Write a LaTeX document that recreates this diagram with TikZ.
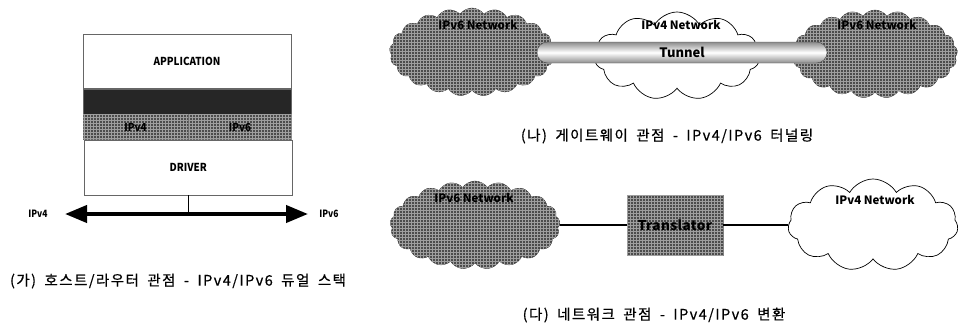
\documentclass[tikz,border=0pt]{standalone}
\usepackage{fontspec}
\setmainfont{Noto Sans CJK KR}
\newfontfamily\capfont{Noto Sans CJK KR}[LetterSpace=10,WordSpace=1.8,FakeBold=0.5]
\newfontfamily\narrowfont{Noto Sans CJK KR}[FakeStretch=0.9]
\newfontfamily\sidefont{Noto Sans CJK KR}[FakeStretch=0.85]
\newfontfamily\spacedfont{Noto Sans CJK KR}[LetterSpace=3]
\usetikzlibrary{arrows.meta}
\usetikzlibrary{positioning}
\usetikzlibrary{shapes.symbols}
\usetikzlibrary{patterns}

\begin{document}
\begin{tikzpicture}[x=1pt,y=-1pt,
  lbl/.style={font=\bfseries\fontsize{11.5}{12}\selectfont},
  sidelbl/.style={font=\sidefont\bfseries\fontsize{10}{12}\selectfont},
  caption/.style={font=\capfont\fontsize{14.5}{16}\selectfont},
  layer/.style={draw=black!60,line width=0.6pt,minimum width=208pt,minimum height=25pt,inner sep=0pt,anchor=north,font=\narrowfont\bfseries\fontsize{11}{12}\selectfont},
  grain/.style={fill=black!70,postaction={pattern=grid,pattern color=black!38}},
  darkcloud/.style={cloud,cloud puffs=21,cloud puff arc=110,draw=black!80,grain,inner sep=0pt,minimum width=165pt,minimum height=88pt},
  whitecloud/.style={cloud,cloud puffs=11,cloud puff arc=120,draw=black,line width=0.7pt,fill=white,inner sep=0pt,minimum width=165pt,minimum height=88pt},
  link/.style={line width=1.8pt}]
\useasboundingbox (0,0) rectangle (961,324);

% (ga) dual stack
\node[layer,minimum height=54pt] (app) at (187,34) {APPLICATION};
\node[layer,fill=black!85,below=0pt of app] (band) {};
\node[layer,grain,minimum width=105pt,anchor=north west] (v4cell) at (band.south west) {IPv4};
\node[layer,grain,minimum width=103pt,right=0pt of v4cell] (v6cell) {IPv6};
\node[layer,minimum height=55pt,anchor=north] (driver) at (v4cell.south east) {DRIVER};
\coordinate (v4tip) at (65,214);
\coordinate (v6tip) at (308,214);
\draw[line width=4pt,{Triangle[length=22pt,width=17pt]}-{Triangle[length=22pt,width=17pt]}] (v4tip) -- (v6tip);
\draw[line width=0.8pt] (driver.south) -- (driver.south |- v4tip);
\node[sidelbl] (v4lbl) at (38,214) {IPv4};
\node[sidelbl] (v6lbl) at (329,214) {IPv6};
\node[caption] (capa) at (178,281) {(가) 호스트/라우터 관점 - IPv4/IPv6 듀얼 스택};

% (na) tunneling
\node[darkcloud] (v6left) at (472,52) {};
\node[darkcloud] (v6right) at (875,54) {};
\node[whitecloud] (v4mid) at (677,56) {};
\node[draw=black!70,rounded corners=10.5pt,top color=black!45,bottom color=black!45,middle color=white,minimum width=290pt,minimum height=21pt,inner sep=0pt,font=\bfseries\fontsize{13}{13}\selectfont] (tunnel) at (682,52.5) {Tunnel};
\node[lbl] (v6leftlbl) at (478,25) {IPv6 Network};
\node[lbl] (v4midlbl) at (681,25) {IPv4 Network};
\node[lbl] (v6rightlbl) at (877,25) {IPv6 Network};
\node[caption] (capb) at (667,136) {(나) 게이트웨이 관점 - IPv4/IPv6 터널링};

% (da) translation
\node[draw=black!50,grain,minimum width=96pt,minimum height=60pt,inner sep=0pt,font=\spacedfont\bfseries\fontsize{13.5}{14}\selectfont] (trans) at (675,225) {Translator};
\node[darkcloud,minimum width=170pt] (v6net) at (475,225) {};
\node[whitecloud,minimum width=170pt,minimum height=92pt] (v4net) at (873,225) {};
\draw[link] (v6net.east) -- (trans.west);
\draw[link] (trans.east) -- (v4net.west);
\node[lbl] (v6netlbl) at (474,198) {IPv6 Network};
\node[lbl] (v4netlbl) at (875,200) {IPv4 Network};
\node[caption] (capc) at (654,315) {(다) 네트워크 관점 - IPv4/IPv6 변환};
\end{tikzpicture}
\end{document}
